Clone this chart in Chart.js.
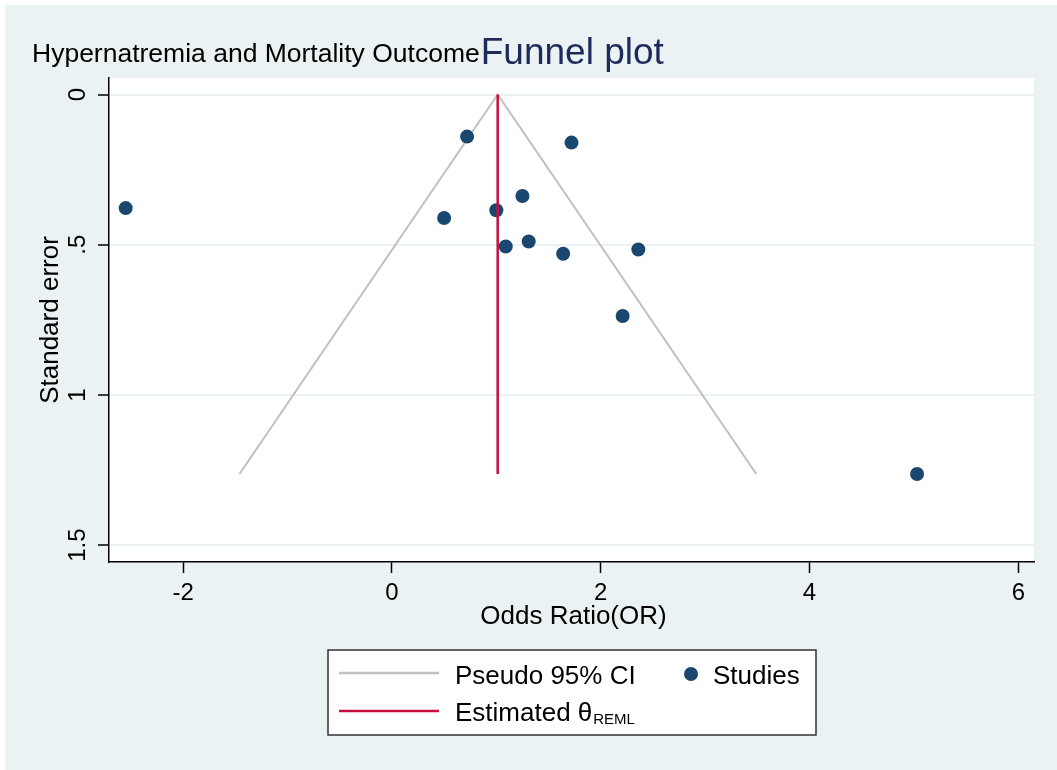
<!doctype html>
<html>
<head>
<meta charset="utf-8">
<title>Funnel plot</title>
<script src="https://cdn.jsdelivr.net/npm/chart.js@4.4.1/dist/chart.umd.min.js"></script>
<style>
  body { margin: 0; background: #fff; }
  #wrap { width: 1057px; height: 770px; position: relative; }
</style>
</head>
<body>
<div id="wrap"><canvas id="funnel"></canvas></div>
<script>
// study estimates
var studyOR = [-2.55, 0.72, 1.72, 1.25, 0.50, 1.00, 1.09, 1.31, 1.64, 2.36, 2.21, 5.03];
var studySE = [0.378, 0.140, 0.160, 0.338, 0.411, 0.385, 0.506, 0.489, 0.530, 0.516, 0.737, 1.263];

// pseudo 95% CI funnel and REML estimate
var ciX = [-1.46, 1.013, 3.49];
var ciY = [1.263, 0, 1.263];
var estX = [1.013, 1.013];
var estY = [0, 1.263];

var xTicks = [-2, 0, 2, 4, 6];
var yTicks = [0, 0.5, 1, 1.5];

var FONT = '"Liberation Sans", Arial, sans-serif';
var BG = '#eaf2f3';

function pts(xs, ys) {
    return xs.map(function (x, i) { return { x: x, y: ys[i] }; });
}
function fmtY(v) {
    return v === 0 ? '0' : String(v).replace(/^0\./, '.');
}

var paintPlugin = {
    id: 'stataLook',
    beforeDraw: function (chart) {
        var c = chart.ctx, a = chart.chartArea;
        c.save();
        c.fillStyle = '#fff';
        c.fillRect(0, 0, chart.width, chart.height);
        c.fillStyle = BG;
        c.fillRect(5, 5, chart.width - 5, chart.height - 5);
        c.fillStyle = '#fff';
        c.fillRect(a.left, a.top, a.right - a.left, a.bottom - a.top);
        c.restore();
    },
    afterDraw: function (chart) {
        var c = chart.ctx, a = chart.chartArea;
        var xs = chart.scales.x, ys = chart.scales.y;
        c.save();
        c.fillStyle = '#000';

        // title
        c.textBaseline = 'alphabetic';
        c.textAlign = 'left';
        c.font = '26.5px ' + FONT;
        var t1 = 'Hypernatremia and Mortality Outcome';
        c.fillText(t1, 32, 62);
        var w1 = c.measureText(t1).width;
        c.font = '37px ' + FONT;
        c.fillStyle = '#1e2a5a';
        c.fillText('Funnel plot', 32 + w1 + 1, 64);

        // x tick labels and title
        c.fillStyle = '#000';
        c.font = '24px ' + FONT;
        c.textAlign = 'center';
        xTicks.forEach(function (v) {
            c.fillText(String(v), xs.getPixelForValue(v), 600);
        });
        c.font = '26px ' + FONT;
        c.fillText('Odds Ratio(OR)', (a.left + a.right) / 2 + 2, 624);

        // y tick labels (rotated) and title
        yTicks.forEach(function (v) {
            c.save();
            c.translate(85, ys.getPixelForValue(v));
            c.rotate(-Math.PI / 2);
            c.font = '24px ' + FONT;
            c.textAlign = 'center';
            c.fillText(fmtY(v), 0, 0);
            c.restore();
        });
        c.save();
        c.translate(58, (a.top + a.bottom) / 2);
        c.rotate(-Math.PI / 2);
        c.font = '26px ' + FONT;
        c.textAlign = 'center';
        c.fillText('Standard error', 0, 0);
        c.restore();

        // legend
        var ds = chart.data.datasets;
        c.fillStyle = '#fff';
        c.fillRect(328, 650, 488, 85);
        c.strokeStyle = '#333';
        c.lineWidth = 1.5;
        c.strokeRect(328, 650, 488, 85);

        c.lineWidth = 2.5;
        c.strokeStyle = ds[2].borderColor;
        c.beginPath(); c.moveTo(339, 673); c.lineTo(439, 673); c.stroke();
        c.strokeStyle = ds[0].borderColor;
        c.beginPath(); c.moveTo(339, 711); c.lineTo(439, 711); c.stroke();

        c.fillStyle = ds[1].backgroundColor;
        c.beginPath(); c.arc(691, 674, 7, 0, Math.PI * 2); c.fill();

        c.fillStyle = '#000';
        c.textAlign = 'left';
        c.font = '26px ' + FONT;
        c.fillText('Pseudo 95% CI', 455, 684);
        c.fillText('Studies', 713, 684);
        var est = 'Estimated \u03b8';
        c.fillText(est, 455, 721);
        var we = c.measureText(est).width;
        c.font = '15px ' + FONT;
        c.fillText('REML', 455 + we + 1, 724);
        c.restore();
    }
};

var ctx = document.getElementById('funnel').getContext('2d');
var funnelChart = new Chart(ctx, {
    type: 'scatter',
    data: {
        datasets: [{
            label: 'Estimated \u03b8REML',
            data: pts(estX, estY),
            showLine: true,
            borderColor: '#c4103f',
            borderWidth: 2.5,
            pointRadius: 0,
            order: 0
        }, {
            label: 'Studies',
            data: pts(studyOR, studySE),
            backgroundColor: '#1a476f',
            borderColor: '#1a476f',
            pointRadius: 7,
            pointBorderWidth: 0,
            order: 1
        }, {
            label: 'Pseudo 95% CI',
            data: pts(ciX, ciY),
            showLine: true,
            borderColor: '#c0c0c0',
            borderWidth: 2,
            pointRadius: 0,
            order: 2
        }]
    },
    options: {
        responsive: true,
        maintainAspectRatio: false,
        animation: false,
        layout: { padding: { left: 0, top: 78, right: 23, bottom: 0 } },
        plugins: {
            legend: { display: false },
            tooltip: { enabled: false }
        },
        scales: {
            x: {
                type: 'linear',
                position: 'bottom',
                min: -2.71,
                max: 6.15,
                afterFit: function (s) { s.height = 208; },
                afterBuildTicks: function (s) {
                    s.ticks = xTicks.map(function (v) { return { value: v }; });
                },
                ticks: { display: false },
                grid: {
                    drawOnChartArea: false,
                    drawTicks: true,
                    tickLength: 11,
                    tickColor: '#000',
                    tickWidth: 1.5
                },
                border: { color: '#000', width: 1.5 }
            },
            y: {
                type: 'linear',
                position: 'left',
                reverse: true,
                min: -0.055,
                max: 1.556,
                afterFit: function (s) { s.width = 109; },
                afterBuildTicks: function (s) {
                    s.ticks = yTicks.map(function (v) { return { value: v }; });
                },
                ticks: { display: false },
                grid: {
                    color: BG,
                    lineWidth: 2,
                    drawTicks: true,
                    tickLength: 11,
                    tickColor: '#000',
                    tickWidth: 1.5
                },
                border: { color: '#000', width: 1.5 }
            }
        }
    },
    plugins: [paintPlugin]
});
</script>
</body>
</html>
